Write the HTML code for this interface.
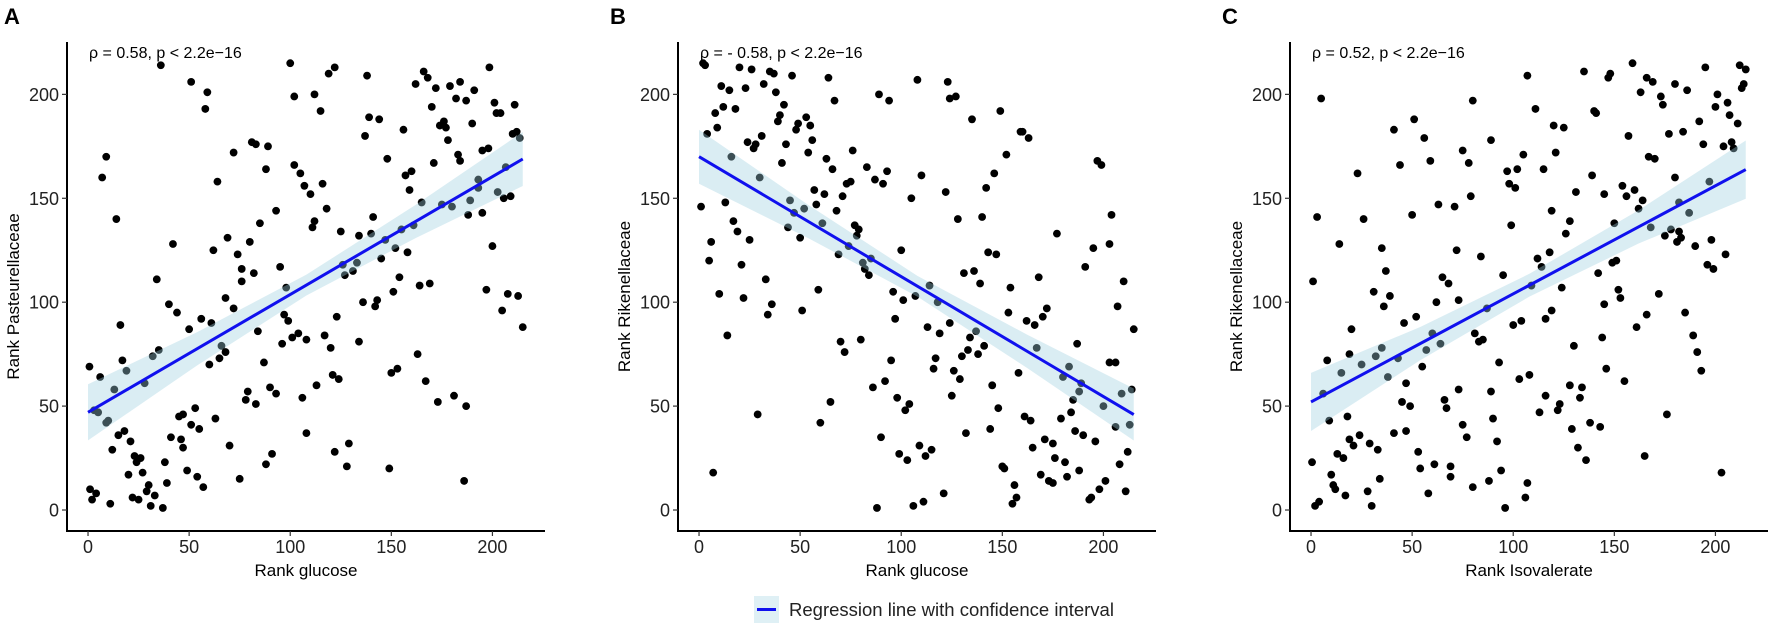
<!DOCTYPE html>
<html><head><meta charset="utf-8"><style>
body{margin:0;background:#fff;}
svg{display:block;font-family:"Liberation Sans",Arial,sans-serif;}
</style></head><body>
<svg id="fig" width="1772" height="628" viewBox="0 0 1772 628"></svg>
<script>
const xTicks=[0,50,100,150,200];
const yTicks=[0,50,100,150,200];
const panelLetters=["A","B","C"];
const panelXTitles=["Rank glucose","Rank glucose","Rank Isovalerate"];
const panelYTitles=["Rank Pasteurellaceae","Rank Rikenellaceae","Rank Rikenellaceae"];
const panelAnnot=["ρ = 0.58, p < 2.2e−16","ρ = - 0.58, p < 2.2e−16","ρ = 0.52, p < 2.2e−16"];
const fitIntercept=[47,170,52];
const fitSlope=[0.567,-0.577,0.52];
const ciX=[0,54,108,162,215];
const ciHalfA=[13.5,8,5,8,13];
const ciHalfB=[13,8,5,8,12.5];
const ciHalfC=[14,8,5.5,8,14];
const pointsA=[[0.7,69],[1,10],[2,5],[4,8],[3,48],[5,47],[6,64],[7,160],[9,170],[9,42],[10,43],[12,29],[11,3],[13,58],[14,140],[15,36],[16,89],[17,72],[18,38],[19,67],[20,17],[21,33],[22,6],[23,26],[24,23],[25,5],[26,25],[27,18],[28,61],[29,9],[30,12],[31,2],[33,7],[34,111],[32,74],[35,77],[36,214],[37,1],[38,23],[39,13],[40,99],[41,35],[42,128],[44,95],[45,45],[46,34],[47,30],[47,46],[49,19],[50,87],[51,206],[51,41],[53,49],[54,16],[55,39],[56,92],[57,11],[58,193],[59,201],[60,70],[61,90],[62,125],[63,44],[64,158],[65,73],[66,79],[68,76],[68,102],[69,131],[70,31],[72,97],[72,172],[74,123],[75,15],[76,116],[76,110],[78,53],[79,57],[80,129],[81,177],[82,114],[83,51],[83,176],[84,86],[85,138],[87,71],[88,164],[88,22],[89,175],[90,59],[91,27],[93,144],[93,56],[95,117],[96,80],[97,94],[98,107],[99,91],[100,215],[101,83],[102,166],[102,199],[104,85],[105,162],[106,54],[107,156],[108,37],[108,82],[110,152],[111,136],[112,200],[112,139],[113,60],[115,192],[116,157],[117,84],[118,145],[119,210],[120,78],[121,65],[122,28],[122,213],[123,93],[124,63],[125,134],[126,118],[127,113],[128,21],[129,32],[131,115],[133,119],[134,81],[134,132],[136,100],[137,180],[138,209],[139,189],[140,133],[141,141],[142,98],[143,101],[144,188],[145,121],[147,130],[148,169],[149,20],[150,66],[151,105],[152,126],[153,68],[154,112],[155,135],[156,183],[157,161],[158,124],[159,154],[160,163],[161,137],[162,205],[163,75],[164,108],[165,148],[166,211],[167,62],[168,208],[169,109],[170,194],[171,167],[172,203],[173,52],[174,185],[175,147],[176,187],[177,184],[178,178],[179,204],[180,146],[181,55],[182,198],[183,171],[184,206],[184,168],[186,14],[187,50],[187,197],[188,142],[189,149],[190,186],[191,202],[193,159],[193,155],[198.5,213],[201,196],[202,191],[204,191],[211,195],[210,181],[212,182],[213.5,179],[195,173],[198,174],[206.6,165],[202.6,153],[205.6,150],[209,151],[195,143],[200,127],[197,106],[207.6,104],[212.7,103],[204.8,96],[215,88]];
const pointsB=[[1,146],[2,215],[3,214],[4,181],[5,120],[6,129],[7,18],[8,191],[9,184],[10,104],[11,204],[12,194],[13,148],[14,84],[15,202],[16,170],[17,139],[18,193],[19,134],[20,213],[21,118],[22,102],[23,203],[24,177],[25,130],[26,212],[27,174],[28,176],[29,46],[30,160],[31,180],[32,205],[33,111],[34,94],[35,211],[36,99],[37,210],[38,201],[39,187],[40,190],[41,167],[42,195],[43,176],[44,136],[45,149],[46,209],[47,143],[48,183],[49,186],[50,131],[51,96],[52,145],[53,189],[54,172],[55,185],[56,178],[57,154],[58,147],[59,106],[60,42],[61,138],[62,152],[63,169],[64,208],[65,52],[66,164],[67,197],[68,144],[69,123],[70,81],[71,151],[72,76],[73,157],[74,127],[75,158],[76,173],[77,137],[78,132],[79,135],[80,82],[81,119],[82,116],[83,165],[84,113],[85,121],[86,59],[87,159],[88,1],[89,200],[90,35],[91,157],[92,62],[93,163],[94,197],[95,72],[96,105],[97,92],[98,54],[99,27],[100,125],[101,101],[102,48],[103,24],[104,51],[105,150],[106,2],[107,103],[108,207],[109,31],[110,161],[111,4],[112,26],[113,88],[114,108],[115,29],[116,68],[117,73],[118,100],[119,85],[121,8],[122,153],[123,206],[124,198],[124,90],[125,55],[126,67],[127,199],[128,140],[129,63],[130,74],[131,114],[132,37],[133,77],[134,83],[135,188],[136,115],[137,86],[138,75],[139,109],[140,141],[141,79],[142,155],[143,124],[144,39],[145,60],[146,162],[147,123],[148,49],[149,192],[150,21],[151,20],[152,171],[153,95],[154,107],[156,12],[157,6],[155,3],[159,182],[158,66],[160,182],[163,179],[162,91],[166,89],[168,112],[170,93],[172,97],[167,78],[161,45],[164,43],[165,30],[171,34],[175,32],[176,25],[169,17],[173,14],[175,13],[181,23],[182,16],[188,19],[177,133],[191,117],[195,126],[197,168],[199,166],[203,128],[204,142],[210,110],[207,98],[215,87],[187,80],[180,64],[183,69],[189,61],[188,57],[185,53],[184,47],[179,44],[186,38],[190,36],[196,33],[203,71],[206,71],[200,50],[209,56],[214,58],[206,40],[213,41],[208,22],[212,28],[193,5],[194,6],[198,10],[201,14],[211,9]];
const pointsC=[[0.5,23],[1,110],[2,2],[4,4],[3,141],[5,198],[6,56],[8,72],[9,43],[10,17],[11,12],[12,10],[13,27],[14,128],[15,66],[16,25],[17,7],[18,45],[19,75],[19,34],[20,87],[21,31],[23,162],[24,36],[25,70],[26,140],[28,9],[29,32],[30,2],[31,105],[32,74],[33,29],[34,15],[35,126],[35,78],[36,98],[37,115],[38,64],[39,103],[41,37],[41,183],[43,73],[44,166],[45,52],[46,90],[47,61],[47,38],[49,50],[50,142],[51,188],[52,93],[53,28],[54,20],[55,69],[56,179],[57,77],[58,8],[59,168],[60,85],[61,22],[62,100],[63,147],[64,80],[65,112],[66,53],[67,49],[68,109],[69,21],[69,16],[71,146],[72,125],[73,58],[73,101],[75,41],[75,173],[77,35],[78,167],[79,151],[80,197],[80,11],[81,85],[83,81],[84,122],[85,82],[87,97],[88,14],[89,57],[89,178],[90,44],[92,33],[93,71],[94,19],[95,113],[96,1],[97,163],[98,157],[99,137],[100,89],[101,155],[102,164],[103,63],[104,91],[105,171],[106,6],[107,209],[107,13],[108,65],[109,108],[111,193],[112,121],[113,47],[114,117],[115,164],[116,55],[116,92],[118,124],[119,144],[119,96],[120,185],[121,172],[122,48],[123,51],[124,107],[125,184],[126,133],[128,60],[128,139],[129,39],[130,79],[131,153],[132,30],[133,54],[134,59],[135,211],[136,24],[138,42],[139,161],[140,192],[141,191],[142,114],[143,40],[144,83],[145,152],[145,99],[146,68],[147,208],[148,210],[149,119],[150,138],[151,120],[152,106],[153,102],[154,156],[155,62],[156,151],[157,180],[159,215],[160,154],[161,88],[162,145],[163,201],[164,149],[165,26],[166,94],[166,208],[167,170],[168,136],[169,206],[170,169],[172,104],[173,199],[174,195],[175,132],[176,46],[177,181],[178,135],[180,160],[180,205],[181,129],[182,134],[182,148],[183,131],[184,182],[185,95],[186,202],[187,143],[189,84],[190,127],[191,76],[192,187],[193,67],[194,176],[195,213],[196,118],[197,158],[198,130],[199,116],[200,194],[201,200],[203,18],[204,175],[205,123],[206,196],[207,190],[208,177],[209,174],[211,186],[212,214],[213,203],[214,205],[215,212]];

const panelPoints=[pointsA,pointsB,pointsC];
const panelCi=[ciHalfA,ciHalfB,ciHalfC];
const NS="http://www.w3.org/2000/svg";
const svg=document.getElementById("fig");
function mk(tag,attrs,parent){const e=document.createElementNS(NS,tag);for(const k in attrs)e.setAttribute(k,attrs[k]);(parent||svg).appendChild(e);return e;}
const axLeft=[67,678,1290], axW=478, axTop=42, axBottom=531;
const xMin=-10.4,xMax=226,yMin=-10.1,yMax=225.2;
for(let p=0;p<3;p++){
  const L=axLeft[p];
  const sx=v=>L+(v-xMin)/(xMax-xMin)*axW;
  const sy=v=>axBottom-(v-yMin)/(yMax-yMin)*(axBottom-axTop);
  const g=mk("g",{});
  
  
  const pts=mk("g",{},g);
  
  
  panelPoints[p].forEach(d=>{
    const c=mk("circle",{cx:sx(d[0]),cy:sy(d[1]),r:3.9,fill:"#000"},pts);
    
    
  });
  // band
  const hw=panelCi[p];
  let up=[],lo=[];
  ciX.forEach((x,i)=>{const yv=fitIntercept[p]+fitSlope[p]*x;up.push(sx(x)+","+sy(yv+hw[i]));lo.unshift(sx(x)+","+sy(yv-hw[i]));});
  const band=mk("polygon",{points:up.concat(lo).join(" "),fill:"#9fcfe0","fill-opacity":0.38},g);
  
  
  const x0=ciX[0],x1=ciX[ciX.length-1];
  const ln=mk("line",{x1:sx(x0),y1:sy(fitIntercept[p]+fitSlope[p]*x0),x2:sx(x1),y2:sy(fitIntercept[p]+fitSlope[p]*x1),stroke:"#1010ee","stroke-width":3},g);
  
  
  // axes
  const ya=mk("line",{x1:L,y1:axTop,x2:L,y2:axBottom+1,stroke:"#000","stroke-width":2},g);
  
  
  const xa=mk("line",{x1:L-1,y1:axBottom,x2:L+axW,y2:axBottom,stroke:"#000","stroke-width":2},g);
  
  
  yTicks.forEach(t=>{
    mk("line",{x1:L-5,x2:L,y1:sy(t),y2:sy(t),stroke:"#333","stroke-width":1.2},g);
    const tx=mk("text",{x:L-8,y:sy(t)+6.5,"text-anchor":"end","font-size":18,fill:"#222"},g);
    tx.textContent=t;
    
    
  });
  xTicks.forEach(t=>{
    mk("line",{x1:sx(t),x2:sx(t),y1:axBottom,y2:axBottom+5,stroke:"#333","stroke-width":1.2},g);
    const tx=mk("text",{x:sx(t),y:553,"text-anchor":"middle","font-size":18,fill:"#222"},g);
    tx.textContent=t;
    
    
  });
  const xt=mk("text",{x:L+axW/2,y:576,"text-anchor":"middle","font-size":17,fill:"#000"},g);
  xt.textContent=panelXTitles[p];
  
  
  const ycx=L-48, ycy=(axTop+axBottom)/2+10;
  const yt=mk("text",{x:ycx,y:ycy,"text-anchor":"middle","font-size":17,fill:"#000",transform:`rotate(-90 ${ycx} ${ycy})`},g);
  yt.textContent=panelYTitles[p];
  
  
  const an=mk("text",{x:L+22,y:58,"font-size":16,fill:"#000"},g);
  an.textContent=panelAnnot[p];
  
  
  const lt=mk("text",{x:[4,610,1222][p],y:24,"font-size":22,"font-weight":"bold",fill:"#000"},g);
  lt.textContent=panelLetters[p];
  
  
}
const lg=mk("g",{});


mk("rect",{x:754,y:596,width:25,height:27,fill:"#dff0f5"},lg);
mk("line",{x1:757,x2:776,y1:609.5,y2:609.5,stroke:"#1010ee","stroke-width":3},lg);
const ltx=mk("text",{x:789,y:616,"font-size":18.5,fill:"#222"},lg);
ltx.textContent="Regression line with confidence interval";


</script>
</body></html>
